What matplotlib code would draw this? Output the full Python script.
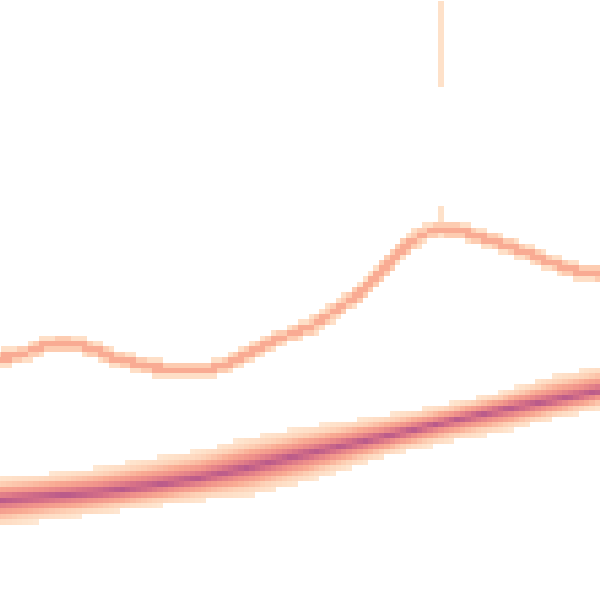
"""
Dichte-Heatmap zweier Verlaeufe (Band + Welle) als 2D-Zellraster.
Koordinaten in Bildpixeln, y waechst nach unten.
"""
import matplotlib
matplotlib.use("Agg")  # headless
import matplotlib.pyplot as plt
import numpy as np
from matplotlib.colors import LinearSegmentedColormap

# ── Daten ─────────────────────────────────────────────────────────────────────
# Welle: Mittellinie des schmalen Strichs
wave_x = [0, 20, 40, 60, 80, 100, 120, 150, 180, 210, 230, 250, 280, 310,
          340, 360, 380, 400, 420, 440, 460, 480, 500, 520, 540, 560, 580, 600]
wave_y = [358, 355, 347, 343, 345, 352, 360, 367, 370, 369, 363, 353, 338, 327,
          307, 293, 273, 251, 235, 229, 231, 237, 243, 250, 258, 266, 272, 273]

# dichtes Band: Mitte, obere und untere Kante
band_x = [0, 50, 100, 150, 200, 250, 300, 350, 400, 450, 500, 550, 600]
band_mid = [500, 496, 492, 486, 478, 467, 455, 444, 433, 421, 410, 401, 391]
band_top = [477, 473, 467, 458, 450, 437, 428, 420, 412, 403, 392, 376, 366]
band_bot = [527, 520, 514, 507, 501, 496, 484, 468, 453, 442, 433, 420, 409]

# Profil quer zum Band (0 = Mitte, 1 = Kante) -> relative Dichte
prof_d = [0.0, 0.2, 0.4, 0.6, 0.8, 1.0]
prof_v = [1.0, 0.74, 0.52, 0.33, 0.17, 0.07]

# senkrechter Ausreisser
spike_x = 440
spike_spans = [(0, 86), (205, 228)]

# ── Raster ────────────────────────────────────────────────────────────────────
CELL = 5.4
OFFSET = 0.7
edges = OFFSET + CELL * np.arange(-1, 112)
centers = 0.5 * (edges[:-1] + edges[1:])
n = len(centers)
Z = np.zeros((n, n))

# Band
for j, xc in enumerate(centers):
    c = np.interp(xc, band_x, band_mid)
    t = np.interp(xc, band_x, band_top)
    b = np.interp(xc, band_x, band_bot)
    d = np.where(centers < c, (c - centers) / (c - t), (centers - c) / (b - c))
    Z[:, j] = np.interp(d, prof_d, prof_v, right=0.0)

# Welle: Abstand jeder Zelle zur Linie
xs = np.arange(0, 600.5, 0.5)
ys = np.interp(xs, wave_x, wave_y)
for j, xc in enumerate(centers):
    sel = np.abs(xs - xc) < 14
    if not sel.any():
        continue
    dist = np.hypot(centers[:, None] - ys[sel][None, :],
                    xc - xs[sel][None, :]).min(axis=1)
    w = np.where(dist < 3.2, 0.42, np.where(dist < 6.0, 0.27,
                 np.where(dist < 8.5, 0.13, 0.0)))
    Z[:, j] = np.maximum(Z[:, j], w)

# Ausreisser
js = np.searchsorted(edges, spike_x) - 1
for y0, y1 in spike_spans:
    rows = (centers >= y0) & (centers <= y1)
    Z[rows, js] = np.maximum(Z[rows, js], 0.12)

Zm = np.ma.masked_where(Z <= 0, Z)

cmap = LinearSegmentedColormap.from_list(
    "peach_mauve",
    [(0.0, "#fff1e4"), (0.1, "#fee3cc"), (0.25, "#fdd0b5"), (0.42, "#f9ab93"),
     (0.6, "#f0928a"), (0.8, "#d87287"), (1.0, "#b95a8a")],
)

# ── Plot ──────────────────────────────────────────────────────────────────────
fig = plt.figure(figsize=(6, 6), dpi=100)
ax = fig.add_axes([0, 0, 1, 1])
ax.pcolormesh(edges, edges, Zm, cmap=cmap, vmin=0, vmax=1,
              shading="flat", antialiased=False, edgecolors="none")
ax.set_xlim(0, 600)
ax.set_ylim(600, 0)
ax.axis("off")
fig.savefig("out.png", dpi=100, facecolor="white")
plt.close(fig)
